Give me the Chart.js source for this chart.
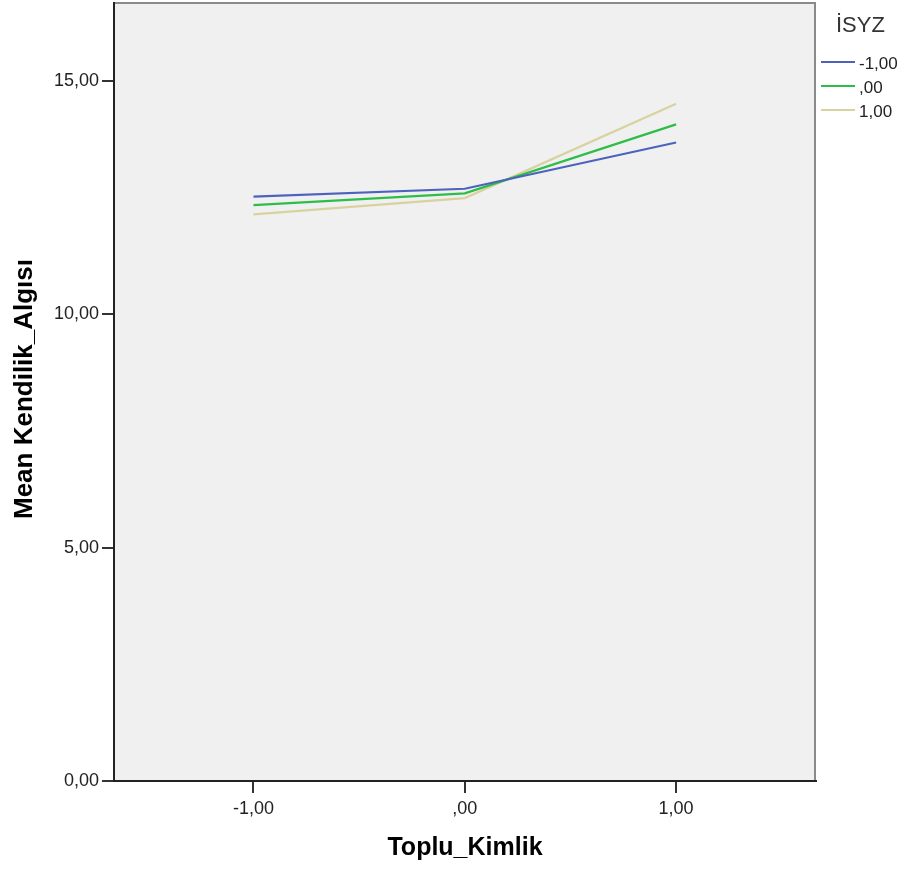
<!DOCTYPE html>
<html>
<head>
<meta charset="utf-8">
<script src="https://cdn.jsdelivr.net/npm/chart.js@4.4.1/dist/chart.umd.min.js"></script>
<style>
  html, body { margin: 0; padding: 0; background: #fff; }
  #wrap { width: 908px; height: 871px; position: relative; }
</style>
</head>
<body>
<div id="wrap"><canvas id="chart" width="908" height="871"></canvas></div>
<script>
// Toplu_Kimlik levels and their tick labels
const categories = [-1, 0, 1];
const tickLabels = ['-1,00', ',00', '1,00'];

// İSYZ groups
const groupNames = ['-1,00', ',00', '1,00'];
const groupColors = ['#4d62bd', '#2ebd48', '#d8d2a0'];

// Mean Kendilik_Algısı per group
const meansLow = [12.52, 12.69, 13.68];
const meansMid = [12.34, 12.59, 14.07];
const meansHigh = [12.14, 12.49, 14.51];

const yTicks = [0, 5, 10, 15];

const toComma = (v) => {
  if (v === 0) return '0,00';
  return v.toFixed(2).replace('.', ',');
};

const font = 'Liberation Sans, Arial, sans-serif';

const plotBg = {
  id: 'plotBg',
  beforeDraw: (chart) => {
    const { ctx, chartArea: a } = chart;
    ctx.save();
    ctx.fillStyle = '#f0f0f0';
    ctx.fillRect(a.left, a.top, a.right - a.left, a.bottom - a.top);
    ctx.strokeStyle = '#8a8a8a';
    ctx.lineWidth = 2;
    ctx.beginPath();
    ctx.moveTo(a.left, a.top);
    ctx.lineTo(a.right - 1, a.top);
    ctx.lineTo(a.right - 1, a.bottom);
    ctx.stroke();
    ctx.restore();
  }
};

const extras = {
  id: 'extras',
  afterDraw: (chart) => {
    const { ctx, chartArea: a } = chart;
    ctx.save();
    ctx.fillStyle = '#000';
    ctx.font = `bold 25px ${font}`;
    ctx.textAlign = 'center';
    ctx.textBaseline = 'middle';
    ctx.fillText('Toplu_Kimlik', (a.left + a.right) / 2, 848);
    ctx.translate(25, 389);
    ctx.rotate(-Math.PI / 2);
    ctx.font = `bold 26px ${font}`;
    ctx.fillText('Mean Kendilik_Algısı', 0, 0);
    ctx.restore();

    // legend
    ctx.save();
    ctx.fillStyle = '#333';
    ctx.font = `22px ${font}`;
    ctx.textAlign = 'left';
    ctx.textBaseline = 'middle';
    ctx.fillText('İSYZ', 836, 26);
    ctx.font = `17px ${font}`;
    groupNames.forEach((name, i) => {
      const y = 62 + i * 24;
      ctx.strokeStyle = groupColors[i];
      ctx.lineWidth = 2;
      ctx.beginPath();
      ctx.moveTo(821, y);
      ctx.lineTo(855, y);
      ctx.stroke();
      ctx.fillStyle = '#222';
      ctx.fillText(name, 859, y + 2);
    });
    ctx.restore();
  }
};

const series = [meansLow, meansMid, meansHigh];

new Chart(document.getElementById('chart'), {
  type: 'line',
  data: {
    datasets: series.map((vals, i) => ({
      label: groupNames[i],
      data: categories.map((c, j) => ({ x: c, y: vals[j] })),
      borderColor: groupColors[i],
      borderWidth: 2.2,
      pointRadius: 0,
      tension: 0,
      fill: false
    }))
  },
  options: {
    responsive: false,
    animation: false,
    layout: { padding: { left: 0, right: 92, top: 3, bottom: 0 } },
    plugins: {
      legend: { display: false },
      tooltip: { enabled: false }
    },
    scales: {
      x: {
        type: 'linear',
        min: -1.66,
        max: 1.662,
        afterBuildTicks: (scale) => {
          scale.ticks = categories.map((v) => ({ value: v }));
        },
        afterFit: (scale) => {
          scale.height = 90;
          scale.paddingLeft = 0;
          scale.paddingRight = 0;
        },
        grid: { drawOnChartArea: false, drawTicks: true, tickLength: 12, color: '#333', lineWidth: 2 },
        border: { display: true, color: '#222', width: 2 },
        ticks: {
          color: '#222',
          font: { family: font, size: 18 },
          padding: 5,
          maxRotation: 0,
          callback: (v) => tickLabels[categories.indexOf(v)]
        }
      },
      y: {
        min: 0,
        max: 16.67,
        afterBuildTicks: (scale) => {
          scale.ticks = yTicks.map((v) => ({ value: v }));
        },
        afterFit: (scale) => {
          scale.width = 114;
          scale.paddingTop = 0;
          scale.paddingBottom = 0;
        },
        grid: { drawOnChartArea: false, drawTicks: true, tickLength: 12, color: '#333', lineWidth: 2 },
        border: { display: true, color: '#222', width: 2 },
        ticks: {
          color: '#222',
          font: { family: font, size: 18 },
          padding: 3,
          callback: (v) => toComma(v)
        }
      }
    }
  },
  plugins: [plotBg, extras]
});
</script>
</body>
</html>
